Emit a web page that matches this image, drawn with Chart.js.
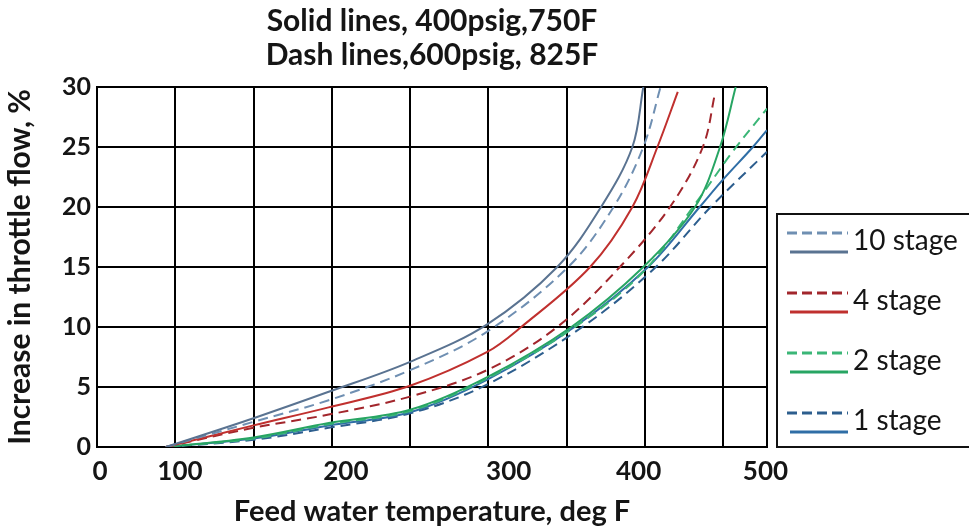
<!DOCTYPE html>
<html>
<head>
<meta charset="utf-8">
<script src="https://cdn.jsdelivr.net/npm/chart.js"></script>
<style>
  html, body { margin: 0; padding: 0; background: #fff; }
</style>
</head>
<body>
<canvas id="myChart" width="969" height="531"></canvas>
<script>
// feed water temperature (deg F), increase in throttle flow (%)
const solid10 = [[94,0],[150,2.4],[198,4.6],[250,7.1],[299,10.2],[344,15],[372,20],[392,25],[399,30]];
const dash10  = [[94,0],[150,2.1],[198,3.9],[250,6.4],[299,9.6],[351,15],[380,20],[399,25],[410,30]];
const solid4  = [[94,0],[150,1.8],[198,3.3],[250,5.1],[299,7.9],[321,10],[365,15],[392,20],[408,25],[421,29.6]];
const dash4   = [[94,0],[150,1.6],[198,2.7],[250,4.2],[299,6.4],[344,10],[384,15],[416,20],[437,25],[445,29.6]];
const solid2  = [[94,0],[150,0.8],[198,2.0],[250,3.1],[299,5.8],[353,10],[399,15],[432,20],[448,25],[458,30]];
const dash2   = [[94,0],[150,0.7],[198,1.9],[250,3.0],[299,5.7],[353,9.8],[399,14.6],[434,20.6],[456,24.6],[478,28.2]];
const solid1  = [[94,0],[150,0.7],[198,1.8],[250,2.9],[299,5.6],[355,10],[402,15],[435,20],[450,22.3],[469,25],[478,26.4]];
const dash1   = [[94,0],[150,0.6],[198,1.6],[250,2.8],[299,5.2],[360,10],[407,15],[442,20],[478,24.6]];

const stageNames = ['10 stage', '4 stage', '2 stage', '1 stage'];
const titleLines = ['Solid lines, 400psig,750F', 'Dash lines,600psig, 825F'];

const xGridLines = [100, 150, 200, 250, 300, 350, 400, 450, 478];
const xTickLabels = ['0', '100', '200', '300', '400', '500'];
const xTickLabelAt = [52, 103, 209, 313, 396, 477];

const stageColors = [
    ['#5a7391', '#6f8fb2'],
    ['#c0302e', '#a2262c'],
    ['#27a563', '#3bb677'],
    ['#2f6ea6', '#2d5e8e']
];
const seriesByStage = [[solid10, dash10], [solid4, dash4], [solid2, dash2], [solid1, dash1]];

const toPoints = arr => arr.map(p => ({ x: p[0], y: p[1] }));

const datasets = [];
seriesByStage.forEach((pair, i) => {
    datasets.push({
        label: stageNames[i] + ' 400psig',
        data: toPoints(pair[0]),
        borderColor: stageColors[i][0],
        borderWidth: 2
    });
    datasets.push({
        label: stageNames[i] + ' 600psig',
        data: toPoints(pair[1]),
        borderColor: stageColors[i][1],
        borderWidth: 2,
        borderDash: [10, 6]
    });
});

const FONT = 'Lato, "Open Sans", sans-serif';
const TEXT = '#151515';

// legend with a dashed and a solid line for each stage
const stageLegend = {
    id: 'stageLegend',
    afterDraw(chart) {
        const ctx = chart.ctx;
        ctx.save();
        ctx.strokeStyle = '#111';
        ctx.lineWidth = 2;
        ctx.strokeRect(777, 214, 200, 233);
        stageNames.forEach((name, i) => {
            const y = 233 + i * 60;
            ctx.lineWidth = 3;
            ctx.strokeStyle = stageColors[i][1];
            ctx.setLineDash([10, 5]);
            ctx.beginPath(); ctx.moveTo(787, y); ctx.lineTo(848, y); ctx.stroke();
            ctx.setLineDash([]);
            ctx.strokeStyle = stageColors[i][0];
            ctx.beginPath(); ctx.moveTo(790, y + 19); ctx.lineTo(848, y + 19); ctx.stroke();
            ctx.fillStyle = TEXT;
            ctx.font = '28px ' + FONT;
            ctx.textBaseline = 'middle';
            ctx.fillText(name, 853, y + 8);
        });
        ctx.restore();
    }
};

const ctx = document.getElementById('myChart').getContext('2d');
new Chart(ctx, {
    type: 'line',
    data: { datasets: datasets },
    plugins: [stageLegend],
    options: {
        responsive: false,
        animation: false,
        layout: { padding: { left: 0, right: 202, top: 0, bottom: 0 } },
        elements: {
            point: { radius: 0 },
            line: { tension: 0.35, fill: false }
        },
        plugins: {
            legend: { display: false },
            tooltip: { enabled: false },
            title: {
                display: true,
                fullSize: false,
                text: titleLines,
                color: TEXT,
                font: { family: FONT, size: 30, weight: 'bold', lineHeight: 1.15 },
                padding: { top: 4, bottom: 14 }
            }
        },
        scales: {
            x: {
                type: 'linear',
                min: 50,
                max: 478,
                afterBuildTicks: axis => {
                    const vals = xGridLines.concat(xTickLabelAt).sort((a, b) => a - b);
                    axis.ticks = vals.map(v => ({ value: v }));
                },
                afterFit: s => { s.height = 84; },
                ticks: {
                    autoSkip: false,
                    maxRotation: 0,
                    padding: 9,
                    color: TEXT,
                    font: { family: FONT, size: 26, weight: 'bold' },
                    callback: v => {
                        const k = xTickLabelAt.indexOf(v);
                        return k >= 0 ? xTickLabels[k] : '';
                    }
                },
                grid: {
                    color: c => (c.tick && xGridLines.includes(c.tick.value)) ? '#000' : 'rgba(0,0,0,0)',
                    lineWidth: 2,
                    drawTicks: false
                },
                border: { color: '#000', width: 2 },
                title: {
                    display: true,
                    text: 'Feed water temperature, deg F',
                    color: TEXT,
                    font: { family: FONT, size: 29, weight: 'bold' },
                    padding: { top: 0, bottom: 2 }
                }
            },
            y: {
                min: 0,
                max: 30,
                afterFit: s => { s.width = 97; },
                ticks: {
                    stepSize: 5,
                    padding: 6,
                    color: TEXT,
                    font: { family: FONT, size: 25, weight: 'bold' },
                },
                grid: { color: '#000', lineWidth: 2, drawTicks: false },
                border: { color: '#000', width: 2 },
                title: {
                    display: true,
                    text: 'Increase in throttle flow, %',
                    color: TEXT,
                    font: { family: FONT, size: 30, weight: 'bold' },
                    padding: { top: 2, bottom: 0 }
                }
            }
        }
    }
});
</script>
</body>
</html>
